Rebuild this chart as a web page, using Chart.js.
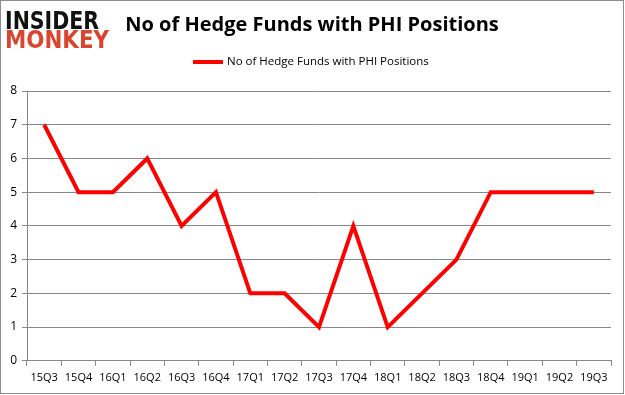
<!DOCTYPE html>
<html>
<head>
<meta charset="utf-8">
<script src="https://cdn.jsdelivr.net/npm/chart.js@4"></script>
<style>
  html, body { margin: 0; padding: 0; background: #fff; }
  #wrap { position: relative; width: 625px; height: 395px; }
</style>
</head>
<body>
<div id="wrap"><canvas id="chart" width="625" height="395"></canvas></div>
<script>
const quarters = ['15Q3', '15Q4', '16Q1', '16Q2', '16Q3', '16Q4', '17Q1', '17Q2', '17Q3',
  '17Q4', '18Q1', '18Q2', '18Q3', '18Q4', '19Q1', '19Q2', '19Q3'];
const funds = [7, 5, 5, 6, 4, 5, 2, 2, 1, 4, 1, 2, 3, 5, 5, 5, 5];
const yTicks = [0, 1, 2, 3, 4, 5, 6, 7, 8];
const seriesName = 'No of Hedge Funds with PHI Positions';
const titleText = 'No of Hedge Funds with PHI Positions';

// title, legend, logo and frame drawn straight on the canvas
const decor = {
  id: 'decor',
  afterDraw(chart) {
    const ctx = chart.ctx;
    ctx.save();
    ctx.strokeStyle = '#8c8c8c';
    ctx.lineWidth = 1;
    ctx.strokeRect(0.5, 0.5, 623, 393);

    ctx.textBaseline = 'middle';
    ctx.fillStyle = '#000';
    ctx.font = 'bold 20px "Open Sans"';
    ctx.textAlign = 'center';
    ctx.fillText(titleText, 312, 25);

    ctx.strokeStyle = '#ff0000';
    ctx.lineWidth = 4;
    ctx.beginPath();
    ctx.moveTo(193, 62);
    ctx.lineTo(223, 62);
    ctx.stroke();
    ctx.font = '11.5px "Open Sans"';
    ctx.textAlign = 'left';
    ctx.fillText(seriesName, 227, 62);

    ctx.textBaseline = 'alphabetic';
    ctx.font = 'bold 25px "DejaVu Sans"';
    ctx.fillStyle = '#111';
    ctx.fillText('INSIDER', 5, 29, 94);
    ctx.fillStyle = '#d9452f';
    ctx.fillText('MONKEY', 5, 48, 104);
    ctx.restore();
  }
};

new Chart(document.getElementById('chart'), {
  type: 'line',
  data: {
    labels: quarters,
    datasets: [{
      label: seriesName,
      data: funds,
      borderColor: '#ff0000',
      backgroundColor: '#ff0000',
      borderWidth: 4,
      pointRadius: 0,
      tension: 0
    }]
  },
  options: {
    responsive: false,
    animation: false,
    layout: { padding: { top: 91, right: 14, left: 0, bottom: 6 } },
    plugins: {
      legend: { display: false },
      tooltip: { enabled: false }
    },
    scales: {
      x: {
        offset: true,
        grid: {
          offset: true,
          drawOnChartArea: false,
          drawTicks: true,
          tickLength: 5,
          color: '#888'
        },
        border: { color: '#888' },
        ticks: {
          color: '#000',
          font: { family: 'Open Sans', size: 11 },
          padding: 5,
          maxRotation: 0,
          autoSkip: false
        }
      },
      y: {
        min: 0,
        max: 8,
        afterBuildTicks(scale) {
          scale.ticks = yTicks.map(v => ({ value: v }));
        },
        afterFit(scale) { scale.width = 27; },
        grid: { color: '#888', tickLength: 5 },
        border: { color: '#888' },
        ticks: {
          color: '#000',
          font: { family: 'Open Sans', size: 12 },
          padding: 5
        }
      }
    }
  },
  plugins: [decor]
});
</script>
</body>
</html>
